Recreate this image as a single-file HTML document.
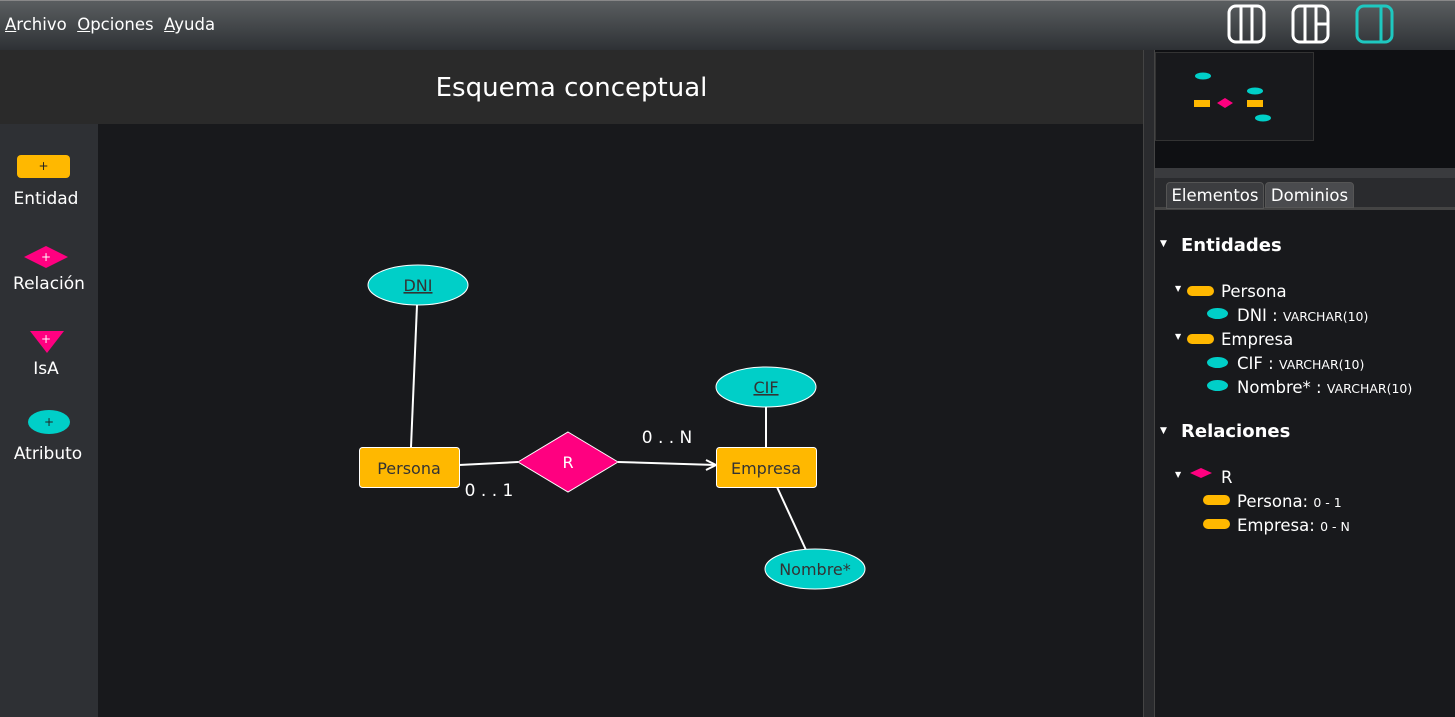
<!DOCTYPE html>
<html><head><meta charset="utf-8"><style>
*{margin:0;padding:0;box-sizing:border-box}
body{width:1455px;height:717px;overflow:hidden;background:#18191c;font-family:"DejaVu Sans","Liberation Sans",sans-serif;position:relative;color:#fff}
.a{position:absolute}
u{text-decoration:underline}
</style></head><body>
<div class="a" style="left:0;top:0;width:1455px;height:50px;background:linear-gradient(#5a5e60,#2e3135);border-top:1px solid #888"></div>
<div class="a" style="left:5px;top:15px;font-size:16.5px;color:#fff;white-space:pre"><u>A</u>rchivo  <u>O</u>pciones  <u>A</u>yuda</div>
<svg class="a" style="left:1225px;top:4px" width="175" height="40">
<rect x="4" y="2" width="35" height="36" rx="7" fill="none" stroke="#fff" stroke-width="3"/><line x1="16" y1="2" x2="16" y2="38" stroke="#fff" stroke-width="3"/><line x1="27" y1="2" x2="27" y2="38" stroke="#fff" stroke-width="3"/>
<rect x="68" y="2" width="35" height="36" rx="7" fill="none" stroke="#fff" stroke-width="3"/><line x1="80" y1="2" x2="80" y2="38" stroke="#fff" stroke-width="3"/><line x1="91" y1="2" x2="91" y2="38" stroke="#fff" stroke-width="3"/><line x1="91" y1="20" x2="103" y2="20" stroke="#fff" stroke-width="3"/>
<rect x="132" y="2" width="35" height="36" rx="7" fill="none" stroke="#1ec8c0" stroke-width="3"/><line x1="156" y1="2" x2="156" y2="38" stroke="#1ec8c0" stroke-width="3"/>
</svg>
<div class="a" style="left:0;top:50px;width:1143px;height:74px;background:#2a2a2a"></div>
<div class="a" style="left:0;top:73px;width:1143px;text-align:center;font-size:26px;color:#fff">Esquema conceptual</div>
<div class="a" style="left:0;top:124px;width:98px;height:593px;background:#2e3034"></div>
<div class="a" style="left:17px;top:155px;width:53px;height:23px;background:#ffb800;border-radius:4px;color:#222;font-size:12px;text-align:center;line-height:23px">+</div>
<div class="a" style="left:0;top:189px;width:92px;text-align:center;font-size:17px">Entidad</div>
<svg class="a" style="left:22px;top:245px" width="48" height="24"><polygon points="24,1 46,12 24,23 2,12" fill="#ff0080"/><text x="24" y="16" fill="#fff" font-size="12" text-anchor="middle">+</text></svg>
<div class="a" style="left:0;top:274px;width:98px;text-align:center;font-size:17px">Relación</div>
<svg class="a" style="left:29px;top:330px" width="36" height="24"><polygon points="1,1 35,1 18,23" fill="#ff0080"/><text x="17" y="13" fill="#fff" font-size="12" text-anchor="middle">+</text></svg>
<div class="a" style="left:0;top:359px;width:92px;text-align:center;font-size:17px">IsA</div>
<svg class="a" style="left:27px;top:409px" width="44" height="26"><ellipse cx="22" cy="13" rx="21" ry="12" fill="#00cfc8"/><text x="22" y="17" fill="#222" font-size="12" text-anchor="middle">+</text></svg>
<div class="a" style="left:0;top:444px;width:96px;text-align:center;font-size:17px">Atributo</div>

<svg class="a" style="left:0;top:0" width="1143" height="717">
<g stroke="#fff" stroke-width="2" fill="none">
<line x1="417" y1="305" x2="411" y2="447"/>
<line x1="766" y1="407" x2="766" y2="447"/>
<line x1="777" y1="487" x2="806" y2="550"/>
<line x1="459" y1="465" x2="518" y2="462"/>
<line x1="618" y1="462" x2="716" y2="465"/>
<polyline points="706,460 716,465 706,470"/>
</g>
<ellipse cx="418" cy="285" rx="50" ry="20" fill="#00cfc8" stroke="#fff" stroke-width="1"/>
<text x="418" y="291" font-size="16" fill="#333" text-anchor="middle" text-decoration="underline">DNI</text>
<ellipse cx="766" cy="387" rx="50" ry="20" fill="#00cfc8" stroke="#fff" stroke-width="1"/>
<text x="766" y="393" font-size="16" fill="#333" text-anchor="middle" text-decoration="underline">CIF</text>
<ellipse cx="815" cy="569" rx="50" ry="20" fill="#00cfc8" stroke="#fff" stroke-width="1"/>
<text x="815" y="575" font-size="16" fill="#333" text-anchor="middle">Nombre*</text>
<rect x="359.5" y="447.5" width="100" height="40" rx="3" fill="#ffb800" stroke="#fff"/>
<text x="409" y="474" font-size="16" fill="#333" text-anchor="middle">Persona</text>
<rect x="716.5" y="447.5" width="100" height="40" rx="3" fill="#ffb800" stroke="#fff"/>
<text x="766" y="474" font-size="16" fill="#333" text-anchor="middle">Empresa</text>
<polygon points="568,432 618,462 568,492 518,462" fill="#ff0080" stroke="#fff"/>
<text x="568" y="468" font-size="16" fill="#fff" text-anchor="middle">R</text>
<text x="489" y="496" font-size="17" fill="#fff" text-anchor="middle">0 . . 1</text>
<text x="667" y="443" font-size="17" fill="#fff" text-anchor="middle">0 . . N</text>
</svg>

<div class="a" style="left:1143px;top:50px;width:12px;height:667px;background:#2a2b2e;border-left:1px solid #444;border-right:1px solid #444"></div>
<div class="a" style="left:1155px;top:50px;width:300px;height:120px;background:#0f1013"></div>
<svg class="a" style="left:1155px;top:52px" width="160" height="90"><rect x="0.5" y="0.5" width="158" height="88" fill="#18191c" stroke="#333"/>
<ellipse cx="48" cy="24" rx="8" ry="3.5" fill="#00cfc8"/><rect x="39" y="48" width="16" height="7" fill="#ffb800"/><polygon points="70,46 78,51 70,56 62,51" fill="#ff0080"/><rect x="92" y="48" width="16" height="7" fill="#ffb800"/><ellipse cx="100" cy="39" rx="8" ry="3.5" fill="#00cfc8"/><ellipse cx="108" cy="66" rx="8" ry="3.5" fill="#00cfc8"/></svg>
<div class="a" style="left:1155px;top:168px;width:300px;height:10px;background:#3a3b3e"></div>
<div class="a" style="left:1155px;top:178px;width:300px;height:32px;background:#2a2b2e;border-bottom:3px solid #444"></div>
<div class="a" style="left:1166px;top:182px;width:98px;height:27px;background:#3c3d40;border:1px solid #555;border-radius:4px 4px 0 0;font-size:16.5px;text-align:center;line-height:26px">Elementos</div>
<div class="a" style="left:1265px;top:182px;width:89px;height:26px;background:#4a4b4e;border:1px solid #555;border-radius:4px 4px 0 0;font-size:16.5px;text-align:center;line-height:26px">Dominios</div>
<div class="a" style="left:1155px;top:212px;width:300px;height:505px;background:#18191c;font-size:16.5px">
<div class="a" style="left:5px;top:27px;font-size:9px">▼</div><div class="a" style="left:26px;top:23px;font-weight:bold;font-size:18px">Entidades</div>
<div class="a" style="left:20px;top:72px;font-size:8px">▼</div><div class="a" style="left:32px;top:74px;width:27px;height:10px;background:#ffb800;border-radius:5px"></div><div class="a" style="left:66px;top:70px">Persona</div>
<div class="a" style="left:52px;top:96px;width:21px;height:11px;background:#00cfc8;border-radius:50%"></div><div class="a" style="left:82px;top:94px">DNI : <span style="font-size:12.5px">VARCHAR(10)</span></div>
<div class="a" style="left:20px;top:120px;font-size:8px">▼</div><div class="a" style="left:32px;top:122px;width:27px;height:10px;background:#ffb800;border-radius:5px"></div><div class="a" style="left:66px;top:118px">Empresa</div>
<div class="a" style="left:52px;top:145px;width:21px;height:11px;background:#00cfc8;border-radius:50%"></div><div class="a" style="left:82px;top:142px">CIF : <span style="font-size:12.5px">VARCHAR(10)</span></div>
<div class="a" style="left:52px;top:168px;width:21px;height:11px;background:#00cfc8;border-radius:50%"></div><div class="a" style="left:82px;top:166px">Nombre* : <span style="font-size:12.5px">VARCHAR(10)</span></div>
<div class="a" style="left:5px;top:214px;font-size:9px">▼</div><div class="a" style="left:26px;top:209px;font-weight:bold;font-size:18px">Relaciones</div>
<div class="a" style="left:20px;top:258px;font-size:8px">▼</div><svg class="a" style="left:34px;top:255px" width="24" height="12"><polygon points="12,1 23,6 12,11 1,6" fill="#ff0080"/></svg><div class="a" style="left:66px;top:256px">R</div>
<div class="a" style="left:48px;top:283px;width:27px;height:10px;background:#ffb800;border-radius:5px"></div><div class="a" style="left:82px;top:280px">Persona: <span style="font-size:12.5px">0 - 1</span></div>
<div class="a" style="left:48px;top:307px;width:27px;height:10px;background:#ffb800;border-radius:5px"></div><div class="a" style="left:82px;top:304px">Empresa: <span style="font-size:12.5px">0 - N</span></div>
</div>
</body></html>
